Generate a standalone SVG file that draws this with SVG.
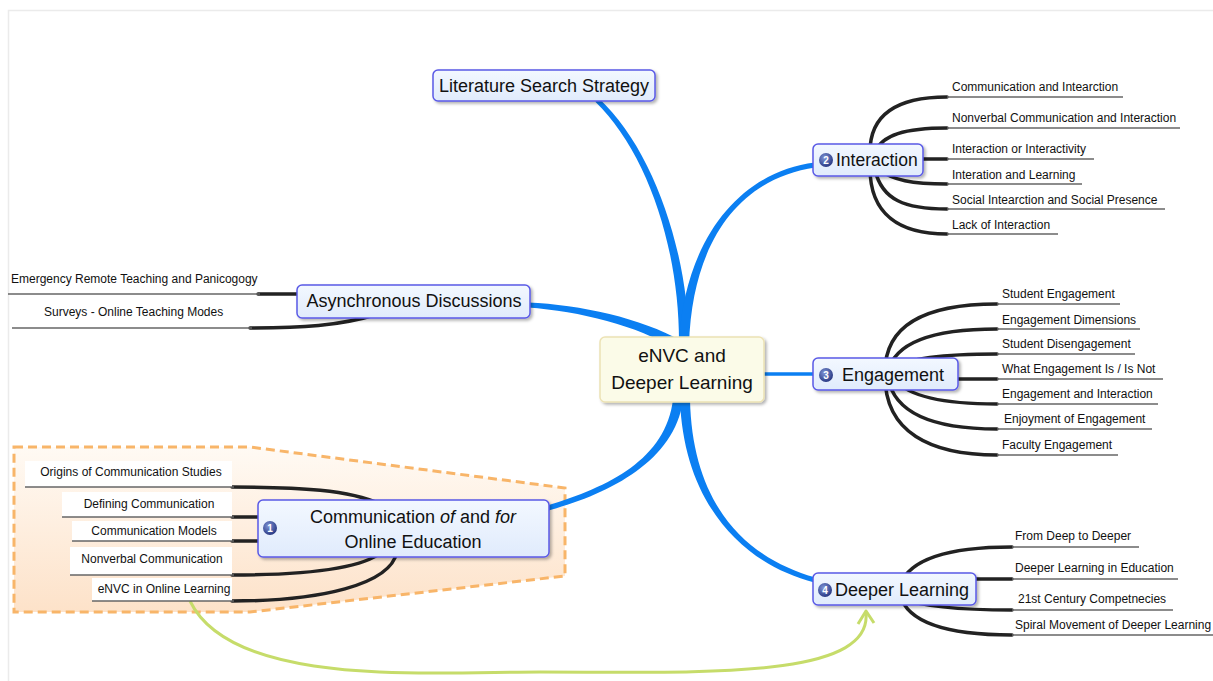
<svg xmlns="http://www.w3.org/2000/svg" width="1213" height="681" viewBox="0 0 1213 681">
<defs>
<style>
.t{font-family:"Liberation Sans",Arial,sans-serif;fill:#111}
.big{font-size:18px}
.sub{font-size:12px}
.node{fill:url(#nodeg);stroke:#5a5ae6;stroke-width:1.5}
.blue{fill:#0b7ff2}
.br{fill:none;stroke:#222;stroke-width:3.5;stroke-linecap:round}
.ul{fill:none;stroke:#666;stroke-width:1.3}
.lab{fill:#fff}
.num{font-family:"Liberation Sans",Arial,sans-serif;font-size:10px;font-weight:bold;fill:#fff}
</style>
<linearGradient id="nodeg" x1="0" y1="0" x2="0" y2="1">
<stop offset="0" stop-color="#f3f8ff"/>
<stop offset="1" stop-color="#e0ebfc"/>
</linearGradient>
<linearGradient id="boundg" x1="0" y1="0" x2="0" y2="1">
<stop offset="0" stop-color="#fffaf4"/>
<stop offset="1" stop-color="#fde2c9"/>
</linearGradient>
<radialGradient id="icong" cx="0.4" cy="0.35" r="0.7">
<stop offset="0" stop-color="#8096d8"/>
<stop offset="1" stop-color="#24337e"/>
</radialGradient>
<filter id="sh" x="-10%" y="-20%" width="130%" height="160%">
<feDropShadow dx="2" dy="2" stdDeviation="1.5" flood-color="#000" flood-opacity="0.3"/>
</filter>
</defs>
<rect width="1213" height="681" fill="#fff"/>
<path d="M8.5,681 V10.5 H1213" fill="none" stroke="#ebebeb" stroke-width="1.5"/>

<g id="boundary">
<path d="M14,447 L250,447 L565,488 L565,576 L250,612 L14,612 Z" fill="url(#boundg)" stroke="#f8b569" stroke-width="3" stroke-dasharray="9 5"/>
</g>

<g id="connectors">
<path class="blue" d="M689,345 C688.2,250 652.3,147.6 598.7,98.2 L595.3,101.8 C647.7,152.4 679.8,250 679,345 Z"/>
<path class="blue" d="M689,345.2 C692.2,240.2 740.4,178.3 815.3,167.5 L814.7,162.5 C739.6,171.7 683.8,239.8 679,344.8 Z"/>
<path class="blue" d="M680.6,340.7 C642.2,318.4 580.2,304.7 528.1,302.5 L527.9,307.5 C579.8,311.3 637.8,325.6 675.4,349.3 Z"/>
<path d="M760,374 L815,374" stroke="#0b7ff2" stroke-width="3.5" fill="none"/>
<path class="blue" d="M673,399.3 C665.9,459.4 609.1,486.8 547.3,505.6 L548.7,510.4 C610.9,493.2 674.1,460.6 683,400.7 Z"/>
<path class="blue" d="M680,400.15 C683.8,500.1 739.1,563.2 814.4,582.4 L815.6,577.6 C740.9,556.8 692.2,499.9 690,399.85 Z"/>

<path class="br" d="M870,152 C870,112 900,97 947,97"/>
<path class="br" d="M875,152 C882,135 905,128 947,128"/>
<path class="br" d="M920,159 L947,159"/>
<path class="br" d="M880,170 C892,180 912,184 947,184"/>
<path class="br" d="M875,170 C882,200 905,209 947,209"/>
<path class="br" d="M870,168 C870,215 900,234 947,234"/>

<path class="br" d="M885,372 C885,322 930,304 997,304"/>
<path class="br" d="M888,372 C895,340 940,329 997,329"/>
<path class="br" d="M895,368 C910,357 950,354 997,354"/>
<path class="br" d="M955,379 L997,379"/>
<path class="br" d="M895,380 C910,398 950,404 997,404"/>
<path class="br" d="M888,378 C895,416 940,429 997,429"/>
<path class="br" d="M885,376 C885,432 930,455 997,455"/>

<path class="br" d="M900,585 C910,558 950,547 1012,547"/>
<path class="br" d="M970,579 L1012,579"/>
<path class="br" d="M900,598 C920,606 960,610 1012,610"/>
<path class="br" d="M900,595 C908,624 950,635 1012,635"/>

<path class="br" d="M258,294 L300,294"/>
<path class="br" d="M250,328 C300,328 340,326 378,314"/>

<path class="br" d="M232,487 C300,487 350,490 380,504"/>
<path class="br" d="M232,517 L262,517"/>
<path class="br" d="M232,541 L262,541"/>
<path class="br" d="M232,575 C300,575 360,570 382,552"/>
<path class="br" d="M232,601 C320,601 390,585 397,552"/>

<path d="M190,601 C232,688 430,672 540,672 C700,672 872,680 866,613" fill="none" stroke="#c6dc6a" stroke-width="3"/>
<path d="M858,624 L866,611 L874,623" fill="none" stroke="#c6dc6a" stroke-width="3" stroke-linejoin="round"/>
</g>

<g id="central">
<rect x="600" y="337" width="164" height="65" rx="5" fill="#fbfbe8" stroke="#ece2b4" stroke-width="1.5" filter="url(#sh)"/>
<text class="t" x="682" y="362" font-size="19" text-anchor="middle">eNVC and</text>
<text class="t" x="682" y="389" font-size="19" text-anchor="middle">Deeper Learning</text>
</g>

<g id="literature">
<rect class="node" x="433" y="70" width="222" height="31" rx="5" filter="url(#sh)"/>
<text class="t big" x="544" y="92" text-anchor="middle">Literature Search Strategy</text>
</g>

<g id="interaction">
<rect class="node" x="813" y="144" width="110" height="32" rx="5" filter="url(#sh)"/>
<circle cx="826" cy="160" r="7" fill="url(#icong)"/>
<text class="num" x="826" y="163.6" text-anchor="middle">2</text>
<text class="t" x="836" y="166" font-size="17.5">Interaction</text>
</g>
<g id="interaction-subs">
<text class="t sub" x="952" y="91">Communication and Intearction</text>
<path class="ul" d="M947,97 H1123"/>
<text class="t sub" x="952" y="122">Nonverbal Communication and Interaction</text>
<path class="ul" d="M947,128 H1180"/>
<text class="t sub" x="952" y="153">Interaction or Interactivity</text>
<path class="ul" d="M947,159 H1094"/>
<text class="t sub" x="952" y="179">Interation and Learning</text>
<path class="ul" d="M947,184 H1082"/>
<text class="t sub" x="952" y="204">Social Intearction and Social Presence</text>
<path class="ul" d="M947,209 H1165"/>
<text class="t sub" x="952" y="229">Lack of Interaction</text>
<path class="ul" d="M947,234 H1058"/>
</g>

<g id="engagement">
<rect class="node" x="813" y="358" width="145" height="32" rx="5" filter="url(#sh)"/>
<circle cx="826" cy="375" r="7" fill="url(#icong)"/>
<text class="num" x="826" y="378.6" text-anchor="middle">3</text>
<text class="t big" x="842" y="381">Engagement</text>
</g>
<g id="engagement-subs">
<text class="t sub" x="1002" y="298">Student Engagement</text>
<path class="ul" d="M997,304 H1120"/>
<text class="t sub" x="1002" y="324">Engagement Dimensions</text>
<path class="ul" d="M997,329 H1140"/>
<text class="t sub" x="1002" y="348">Student Disengagement</text>
<path class="ul" d="M997,354 H1135"/>
<text class="t sub" x="1002" y="373">What Engagement Is / Is Not</text>
<path class="ul" d="M997,379 H1163"/>
<text class="t sub" x="1002" y="398">Engagement and Interaction</text>
<path class="ul" d="M997,404 H1158"/>
<text class="t sub" x="1004" y="423">Enjoyment of Engagement</text>
<path class="ul" d="M997,429 H1152"/>
<text class="t sub" x="1002" y="449">Faculty Engagement</text>
<path class="ul" d="M997,455 H1118"/>
</g>

<g id="deeper">
<rect class="node" x="813" y="573" width="163" height="32" rx="5" filter="url(#sh)"/>
<circle cx="825" cy="590" r="7" fill="url(#icong)"/>
<text class="num" x="825" y="593.6" text-anchor="middle">4</text>
<text class="t big" x="835" y="596">Deeper Learning</text>
</g>
<g id="deeper-subs">
<text class="t sub" x="1015" y="540">From Deep to Deeper</text>
<path class="ul" d="M1012,547 H1139"/>
<text class="t sub" x="1015" y="572">Deeper Learning in Education</text>
<path class="ul" d="M1012,579 H1178"/>
<text class="t sub" x="1018" y="603">21st Century Competnecies</text>
<path class="ul" d="M1012,610 H1173"/>
<text class="t sub" x="1015" y="629">Spiral Movement of Deeper Learning</text>
<path class="ul" d="M1012,635 H1213"/>
</g>

<g id="asynchronous">
<rect class="node" x="297" y="285" width="233" height="33" rx="5" filter="url(#sh)"/>
<text class="t big" x="414" y="307" text-anchor="middle">Asynchronous Discussions</text>
</g>
<g id="asynchronous-subs">
<text class="t sub" x="11" y="283">Emergency Remote Teaching and Panicogogy</text>
<path class="ul" d="M8,294 H260"/>
<text class="t sub" x="44" y="316">Surveys - Online Teaching Modes</text>
<path class="ul" d="M12,328 H252"/>
</g>

<g id="communication">
<rect class="node" x="258" y="500" width="291" height="57" rx="5" filter="url(#sh)"/>
<circle cx="270" cy="528" r="7" fill="url(#icong)"/>
<text class="num" x="270" y="531.6" text-anchor="middle">1</text>
<text class="t big" x="413" y="523" text-anchor="middle">Communication <tspan font-style="italic">of</tspan> and <tspan font-style="italic">for</tspan></text>
<text class="t big" x="413" y="548" text-anchor="middle">Online Education</text>
</g>
<g id="communication-subs">
<rect class="lab" x="25" y="461" width="207" height="26"/>
<text class="t sub" x="131" y="476" text-anchor="middle">Origins of Communication Studies</text>
<path class="ul" d="M25,487 H234"/>
<rect class="lab" x="62" y="492" width="170" height="25"/>
<text class="t sub" x="149" y="508" text-anchor="middle">Defining Communication</text>
<path class="ul" d="M62,517 H234"/>
<rect class="lab" x="72" y="521" width="160" height="20"/>
<text class="t sub" x="154" y="535" text-anchor="middle">Communication Models</text>
<path class="ul" d="M72,541 H234"/>
<rect class="lab" x="70" y="547" width="162" height="28"/>
<text class="t sub" x="152" y="563" text-anchor="middle">Nonverbal Communication</text>
<path class="ul" d="M70,575 H234"/>
<rect class="lab" x="92" y="578" width="140" height="23"/>
<text class="t sub" x="164" y="593" text-anchor="middle">eNVC in Online Learning</text>
<path class="ul" d="M92,601 H234"/>
</g>
</svg>
